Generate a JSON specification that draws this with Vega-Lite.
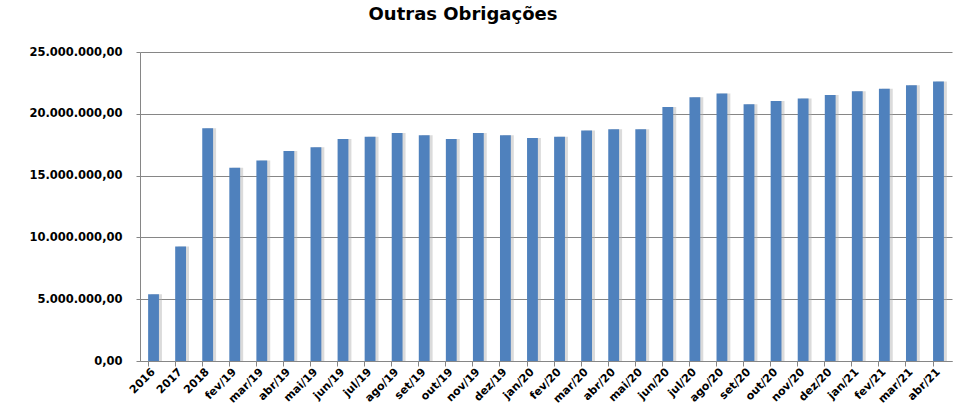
{
  "$schema": "https://vega.github.io/schema/vega-lite/v6.json",
  "width": 812,
  "height": 309,
  "autosize": {"type": "none"},
  "padding": {"left": 140, "top": 52, "right": 6, "bottom": 57},
  "background": "white",
  "title": {
    "text": "Outras Obrigações",
    "font": "DejaVu Sans",
    "fontSize": 18,
    "fontWeight": "bold",
    "color": "#000000",
    "anchor": "middle",
    "frame": "group",
    "dx": -83,
    "offset": 22
  },
  "config": {
    "locale": {"number": {"decimal": ",", "thousands": ".", "grouping": [3], "currency": ["R$", ""]}},
    "view": {"stroke": null}
  },
  "data": {
    "values": [
      {"periodo": "2016", "valor": 5400000},
      {"periodo": "2017", "valor": 9260000},
      {"periodo": "2018", "valor": 18830000},
      {"periodo": "fev/19", "valor": 15640000},
      {"periodo": "mar/19", "valor": 16230000},
      {"periodo": "abr/19", "valor": 16990000},
      {"periodo": "mai/19", "valor": 17290000},
      {"periodo": "jun/19", "valor": 17960000},
      {"periodo": "jul/19", "valor": 18150000},
      {"periodo": "ago/19", "valor": 18450000},
      {"periodo": "set/19", "valor": 18260000},
      {"periodo": "out/19", "valor": 17960000},
      {"periodo": "nov/19", "valor": 18450000},
      {"periodo": "dez/19", "valor": 18260000},
      {"periodo": "jan/20", "valor": 18050000},
      {"periodo": "fev/20", "valor": 18150000},
      {"periodo": "mar/20", "valor": 18640000},
      {"periodo": "abr/20", "valor": 18750000},
      {"periodo": "mai/20", "valor": 18750000},
      {"periodo": "jun/20", "valor": 20560000},
      {"periodo": "jul/20", "valor": 21340000},
      {"periodo": "ago/20", "valor": 21640000},
      {"periodo": "set/20", "valor": 20770000},
      {"periodo": "out/20", "valor": 21040000},
      {"periodo": "nov/20", "valor": 21230000},
      {"periodo": "dez/20", "valor": 21530000},
      {"periodo": "jan/21", "valor": 21830000},
      {"periodo": "fev/21", "valor": 22020000},
      {"periodo": "mar/21", "valor": 22310000},
      {"periodo": "abr/21", "valor": 22610000}
    ]
  },
  "encoding": {
    "x": {
      "field": "periodo",
      "type": "ordinal",
      "sort": null,
      "title": null,
      "scale": {"paddingInner": 0.6, "paddingOuter": 0.3},
      "axis": {
        "labelAngle": -45,
        "labelAlign": "right",
        "labelBaseline": "middle",
        "labelFont": "DejaVu Sans",
        "labelFontSize": 11,
        "labelFontWeight": "bold",
        "labelColor": "#000000",
        "labelPadding": 4,
        "bandPosition": 0,
        "ticks": true,
        "tickSize": 5,
        "tickColor": "#868686",
        "domainColor": "#868686",
        "grid": false
      }
    },
    "y": {
      "field": "valor",
      "type": "quantitative",
      "title": null,
      "scale": {"domain": [0, 25000000], "nice": false},
      "axis": {
        "values": [0, 5000000, 10000000, 15000000, 20000000, 25000000],
        "format": ",.2f",
        "labelFont": "DejaVu Sans",
        "labelFontSize": 11.5,
        "labelFontWeight": "bold",
        "labelColor": "#000000",
        "labelPadding": 14,
        "tickSize": 4,
        "tickColor": "#868686",
        "domainColor": "#868686",
        "grid": true,
        "gridColor": "#868686",
        "gridWidth": 1
      }
    }
  },
  "layer": [
    {
      "mark": {"type": "bar", "color": "#b0b0b0", "opacity": 0.45, "xOffset": 3}
    },
    {
      "mark": {"type": "bar", "color": "#4F81BD"}
    }
  ]
}
